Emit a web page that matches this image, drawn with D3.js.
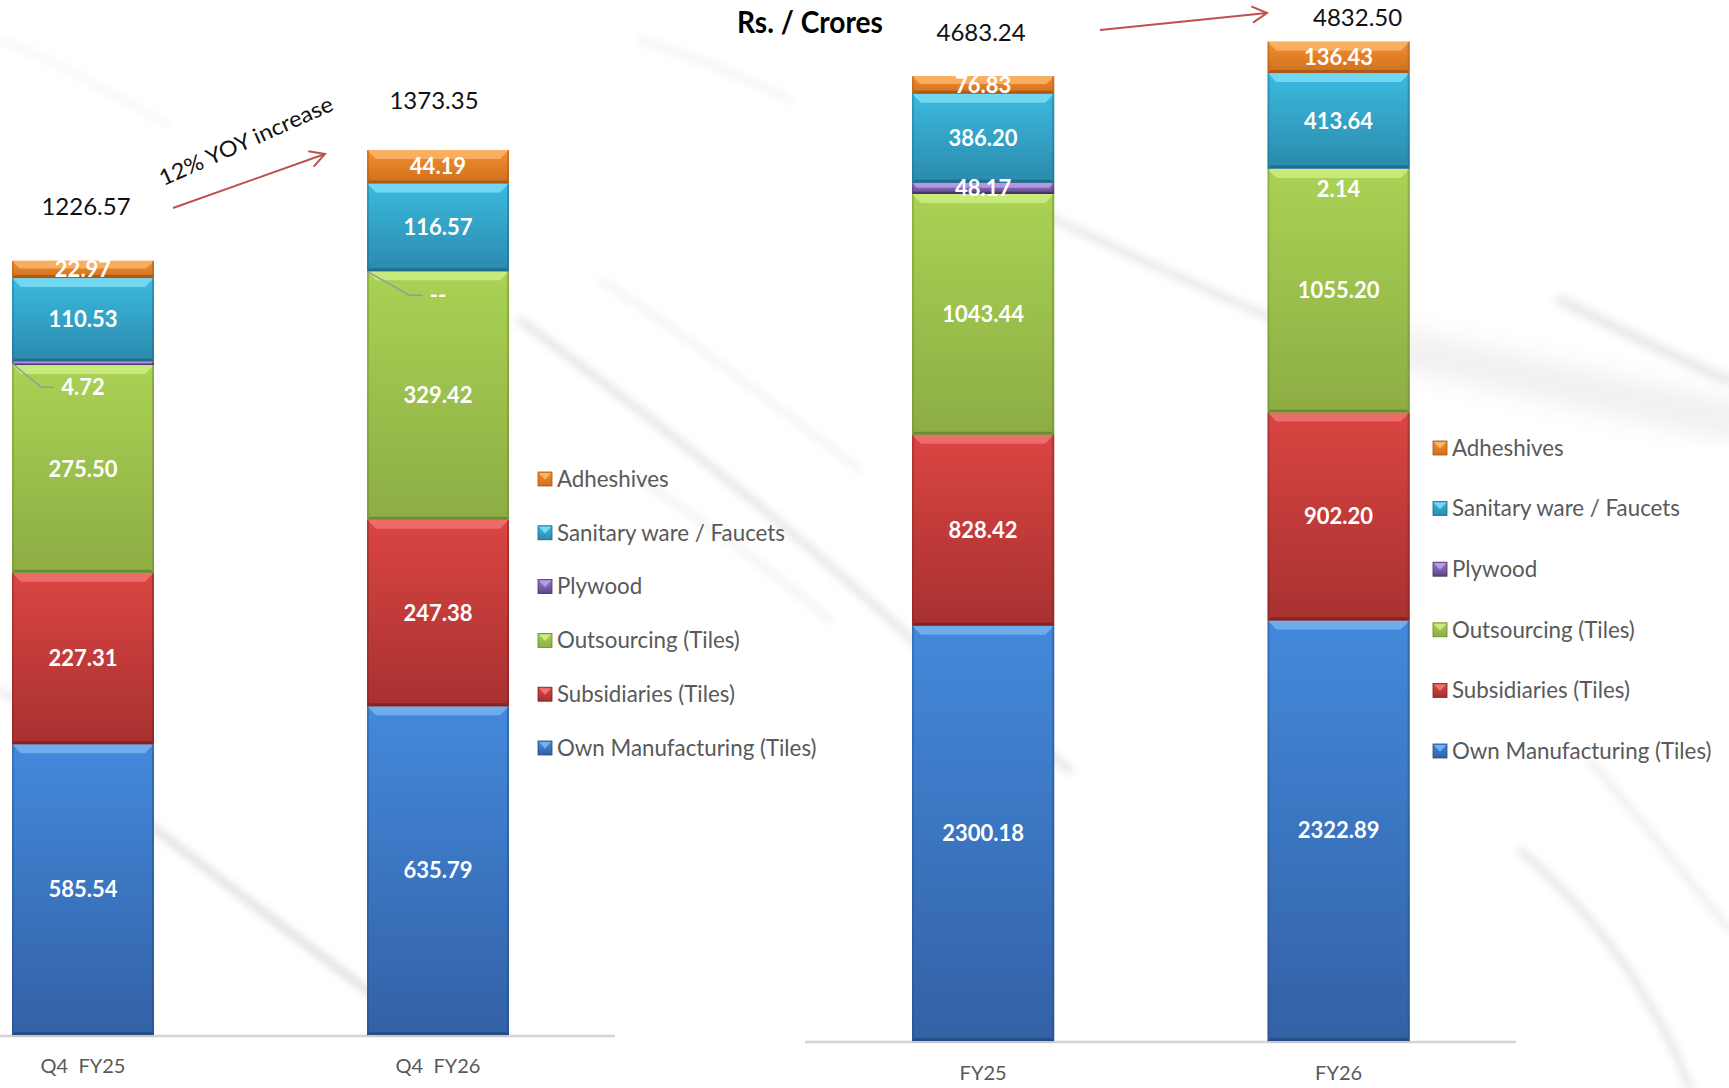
<!DOCTYPE html>
<html>
<head>
<meta charset="utf-8">
<script src="https://cdn.jsdelivr.net/npm/d3@7"></script>
<style>
  html, body { margin: 0; padding: 0; background: #ffffff; }
  svg { display: block; }
  text { font-family: Lato, "Open Sans", "Noto Sans", sans-serif; }
</style>
</head>
<body>
<svg id="chart" width="1729" height="1088"></svg>
<script>
// ---- Revenue mix, Rs. / Crores ----
const seriesKeys = ["own", "subsidiaries", "outsourcing", "plywood", "sanitary", "adhesives"];
const seriesNames = ["Own Manufacturing (Tiles)", "Subsidiaries (Tiles)", "Outsourcing (Tiles)",
                     "Plywood", "Sanitary ware / Faucets", "Adheshives"];

// Quarterly view
const quarterCategories = ["Q4  FY25", "Q4  FY26"];
const quarterOwnManufacturing = [585.54, 635.79];
const quarterSubsidiaries     = [227.31, 247.38];
const quarterOutsourcing      = [275.50, 329.42];
const quarterPlywood          = [4.72, 0];
const quarterSanitary         = [110.53, 116.57];
const quarterAdhesives        = [22.97, 44.19];
const quarterTotals           = [1226.57, 1373.35];

// Full-year view
const yearCategories = ["FY25", "FY26"];
const yearOwnManufacturing = [2300.18, 2322.89];
const yearSubsidiaries     = [828.42, 902.20];
const yearOutsourcing      = [1043.44, 1055.20];
const yearPlywood          = [48.17, 2.14];
const yearSanitary         = [386.20, 413.64];
const yearAdhesives        = [76.83, 136.43];
const yearTotals           = [4683.24, 4832.50];

const growthNote = "12% YOY increase";
const unitTitle = "Rs. / Crores";

// Beveled fill colours per series
const palette = {
  own:          { top: "#4389db", bottom: "#3361a6", light: "#7db8f2", dark: "#224a82" },
  subsidiaries: { top: "#da4542", bottom: "#a73130", light: "#f27a77", dark: "#77211f" },
  outsourcing:  { top: "#aad254", bottom: "#8dad44", light: "#d3f08a", dark: "#66822d" },
  plywood:      { top: "#9b7bcd", bottom: "#5f4682", light: "#c0a4ee", dark: "#443063" },
  sanitary:     { top: "#3bbade", bottom: "#2a8aad", light: "#86e2f8", dark: "#1d6681" },
  adhesives:    { top: "#f48e31", bottom: "#cf701d", light: "#fcbb72", dark: "#a15417" }
};

const svg = d3.select("#chart");
const defs = svg.append("defs");

seriesKeys.forEach(k => {
  const g = defs.append("linearGradient").attr("id", "grad-" + k)
    .attr("x1", 0).attr("y1", 0).attr("x2", 0).attr("y2", 1);
  g.append("stop").attr("offset", "0%").attr("stop-color", palette[k].top);
  g.append("stop").attr("offset", "100%").attr("stop-color", palette[k].bottom);
});

const veinBlur = defs.append("filter").attr("id", "vein-blur")
  .attr("x", "-20%").attr("y", "-20%").attr("width", "140%").attr("height", "140%");
veinBlur.append("feGaussianBlur").attr("stdDeviation", 4);
const veinBlurWide = defs.append("filter").attr("id", "vein-blur-wide")
  .attr("x", "-30%").attr("y", "-30%").attr("width", "160%").attr("height", "160%");
veinBlurWide.append("feGaussianBlur").attr("stdDeviation", 12);

// ---- Marble backdrop ----
const marble = svg.append("g").attr("class", "marble");
const veins = [
  { d: "M 1300,330 C 1420,350 1560,385 1729,420", w: 40, o: 0.12, f: "vein-blur-wide" },
  { d: "M 520,320 C 600,380 700,455 800,540 S 960,690 1070,770", w: 6, o: 0.28, f: "vein-blur" },
  { d: "M 600,280 C 680,330 760,395 860,470", w: 3, o: 0.22, f: "vein-blur" },
  { d: "M 640,480 C 700,520 760,560 830,620", w: 4, o: 0.18, f: "vein-blur" },
  { d: "M 1000,195 C 1080,230 1180,280 1300,330", w: 7, o: 0.22, f: "vein-blur" },
  { d: "M 150,825 C 220,880 300,940 380,1000", w: 6, o: 0.35, f: "vein-blur" },
  { d: "M 0,690 C 40,715 80,750 130,790", w: 5, o: 0.25, f: "vein-blur" },
  { d: "M 1520,850 C 1590,910 1650,985 1690,1088", w: 5, o: 0.3, f: "vein-blur" },
  { d: "M 1590,760 C 1640,820 1690,880 1729,930", w: 4, o: 0.25, f: "vein-blur" },
  { d: "M 0,40 C 60,60 110,95 170,125", w: 3, o: 0.15, f: "vein-blur" },
  { d: "M 640,40 C 690,55 740,75 790,100", w: 4, o: 0.16, f: "vein-blur" },
  { d: "M 1560,300 C 1620,330 1680,360 1729,380", w: 10, o: 0.2, f: "vein-blur" }
];
marble.selectAll("path").data(veins).join("path")
  .attr("d", d => d.d).attr("fill", "none").attr("stroke", "#8a8a8a")
  .attr("stroke-width", d => d.w).attr("stroke-linecap", "round")
  .attr("opacity", d => d.o).attr("filter", d => "url(#" + d.f + ")");

// ---- Helpers ----
function buildRows(categories, own, subs, outs, ply, san, adh) {
  return categories.map((c, i) => ({
    cat: c, own: own[i], subsidiaries: subs[i], outsourcing: outs[i],
    plywood: ply[i], sanitary: san[i], adhesives: adh[i]
  }));
}

function bevelSegment(g, key, x0, w, yTop, yBot) {
  const h = yBot - yTop;
  if (h <= 0.05) return;
  const c = palette[key];
  const x1 = x0 + w;
  g.append("rect").attr("x", x0).attr("y", yTop).attr("width", w).attr("height", h)
    .attr("fill", "url(#grad-" + key + ")");
  const b = Math.min(9, h * 0.45);
  g.append("polygon")
    .attr("points", [[x0, yTop], [x1, yTop], [x1 - b, yTop + b], [x0 + b, yTop + b]].join(" "))
    .attr("fill", c.light).attr("opacity", 0.75);
  const bb = Math.min(3, h * 0.2);
  g.append("polygon")
    .attr("points", [[x0, yBot], [x1, yBot], [x1 - bb, yBot - bb], [x0 + bb, yBot - bb]].join(" "))
    .attr("fill", c.dark).attr("opacity", 0.8);
  const sb = Math.min(2, w * 0.02);
  g.append("rect").attr("x", x0).attr("y", yTop).attr("width", sb).attr("height", h)
    .attr("fill", c.dark).attr("opacity", 0.35);
  g.append("rect").attr("x", x1 - sb).attr("y", yTop).attr("width", sb).attr("height", h)
    .attr("fill", c.dark).attr("opacity", 0.45);
}

function legendSwatch(g, key, x, y, s) {
  const c = palette[key];
  g.append("rect").attr("x", x).attr("y", y).attr("width", s).attr("height", s)
    .attr("fill", "url(#grad-" + key + ")").attr("stroke", c.dark).attr("stroke-width", 0.8);
  g.append("polygon")
    .attr("points", [[x + 1, y + 1], [x + s - 1, y + 1], [x + s / 2, y + s * 0.55]].join(" "))
    .attr("fill", c.light).attr("opacity", 0.85);
}

const fmt = v => v === 0 ? "--" : d3.format(".2f")(v);

function drawPanel(p) {
  const rows = buildRows(p.categories, ...p.series);
  const stacked = d3.stack().keys(seriesKeys)(rows);

  const x = d3.scaleBand().domain(p.categories).range(p.xRange)
    .paddingInner(0.6).paddingOuter(0);
  const y = d3.scaleLinear().domain(p.yDomain).range(p.yRange).clamp(true);

  const g = svg.append("g").attr("class", "panel");

  // baseline
  g.append("line").attr("x1", p.baseline[0]).attr("x2", p.baseline[1])
    .attr("y1", y(p.yDomain[0]) + 1).attr("y2", y(p.yDomain[0]) + 1)
    .attr("stroke", "#d4d4d4").attr("stroke-width", 2.5);

  // bars
  const bars = g.append("g").attr("class", "bars");
  stacked.forEach(layer => {
    layer.forEach(d => {
      bevelSegment(bars, layer.key, x(d.data.cat), x.bandwidth(), y(d[1]), y(d[0]));
    });
  });

  // shadow line under bars
  p.categories.forEach(c => {
    g.append("rect").attr("x", x(c)).attr("y", y(p.yDomain[0]))
      .attr("width", x.bandwidth()).attr("height", 2).attr("fill", "#c8c8c8");
  });

  // segment value labels
  const labels = g.append("g").attr("class", "values");
  stacked.forEach(layer => {
    layer.forEach(d => {
      const yTop = y(d[1]), yBot = y(d[0]);
      const h = yBot - yTop;
      const val = d.data[layer.key];
      const cx = x(d.data.cat) + x.bandwidth() / 2;
      const small = h < 4;
      const ly = small ? (yTop + yBot) / 2 + p.smallOffset : (yTop + yBot) / 2;
      const t = labels.append("text")
        .attr("x", cx).attr("y", ly).attr("dy", "0.35em")
        .attr("text-anchor", "middle").attr("fill", "#ffffff")
        .attr("font-weight", 700).attr("font-size", 22)
        .text(fmt(val));
      if (small && p.leader) {
        const tw = t.node().getComputedTextLength();
        const left = cx - tw / 2;
        const x0 = x(d.data.cat);
        labels.insert("path", "text")
          .attr("d", `M${x0},${(yTop + yBot) / 2} L${left - 20},${ly} L${left - 7},${ly}`)
          .attr("fill", "none").attr("stroke", "#9a9a9a").attr("stroke-width", 1.6);
      }
    });
  });

  // totals above bars
  p.totals.forEach((v, i) => {
    const c = p.categories[i];
    g.append("text")
      .attr("x", x(c) + x.bandwidth() / 2 + p.totalOffsets[i][0])
      .attr("y", y(v) + p.totalOffsets[i][1])
      .attr("text-anchor", "middle").attr("fill", "#111111")
      .attr("font-size", 24).text(d3.format(".2f")(v));
  });

  // category axis
  const axis = g.append("g").attr("transform", `translate(0,${y(p.yDomain[0])})`)
    .call(d3.axisBottom(x).tickSize(0).tickPadding(p.tickPadding));
  axis.select(".domain").remove();
  axis.selectAll("text").attr("font-size", 20).attr("fill", "#595959")
    .style("white-space", "pre")
    .attr("font-family", "Lato, 'Open Sans', sans-serif");

  // legend
  const lg = g.append("g").attr("class", "legend");
  const order = seriesKeys.slice().reverse();
  order.forEach((k, i) => {
    const ly = p.legend.y + i * p.legend.step;
    legendSwatch(lg, k, p.legend.x, ly - 7, 14);
    lg.append("text").attr("x", p.legend.x + 19).attr("y", ly).attr("dy", "0.35em")
      .attr("font-size", 22.3).attr("fill", "#595959")
      .text(seriesNames[seriesKeys.indexOf(k)]);
  });

  return { x, y };
}

const quarterPanel = drawPanel({
  categories: quarterCategories,
  series: [quarterOwnManufacturing, quarterSubsidiaries, quarterOutsourcing,
           quarterPlywood, quarterSanitary, quarterAdhesives],
  totals: quarterTotals,
  xRange: [12, 509],
  yDomain: [200, 1400],
  yRange: [1035, 130],
  baseline: [0, 615],
  leader: true,
  smallOffset: 24,
  tickPadding: 24,
  totalOffsets: [[3, -46], [-4, -41]],
  legend: { x: 538, y: 479, step: 53.8 }
});

const yearPanel = drawPanel({
  categories: yearCategories,
  series: [yearOwnManufacturing, yearSubsidiaries, yearOutsourcing,
           yearPlywood, yearSanitary, yearAdhesives],
  totals: yearTotals,
  xRange: [912, 912 + 355.5 * 1.4],
  yDomain: [500, 5000],
  yRange: [1041, 3],
  baseline: [805, 1516],
  leader: false,
  smallOffset: 21,
  tickPadding: 25,
  totalOffsets: [[-2, -35], [19, -16]],
  legend: { x: 1433, y: 448, step: 60.6 }
});

// ---- Annotations ----
function openArrow(g, x1, y1, x2, y2) {
  const ang = Math.atan2(y2 - y1, x2 - x1);
  const L = 17, spread = 0.5;
  g.append("line").attr("x1", x1).attr("y1", y1).attr("x2", x2).attr("y2", y2);
  g.append("polyline").attr("points", [
    [x2 - L * Math.cos(ang - spread), y2 - L * Math.sin(ang - spread)],
    [x2, y2],
    [x2 - L * Math.cos(ang + spread), y2 - L * Math.sin(ang + spread)]
  ].join(" "));
}

const notes = svg.append("g").attr("fill", "none").attr("stroke", "#c0504d").attr("stroke-width", 2);
openArrow(notes, 173, 208, 325, 154);
openArrow(notes, 1100, 30, 1267, 13);

svg.append("text")
  .attr("transform", "translate(246,141) rotate(-24)")
  .attr("text-anchor", "middle").attr("dy", "0.35em")
  .attr("font-size", 22).attr("fill", "#111111")
  .attr("textLength", 188).attr("lengthAdjust", "spacingAndGlyphs")
  .text(growthNote);

svg.append("text")
  .attr("x", 810).attr("y", 33).attr("text-anchor", "middle")
  .attr("font-size", 31).attr("font-weight", 700).attr("fill", "#000000")
  .attr("textLength", 146).attr("lengthAdjust", "spacingAndGlyphs")
  .text(unitTitle);
</script>
</body>
</html>
